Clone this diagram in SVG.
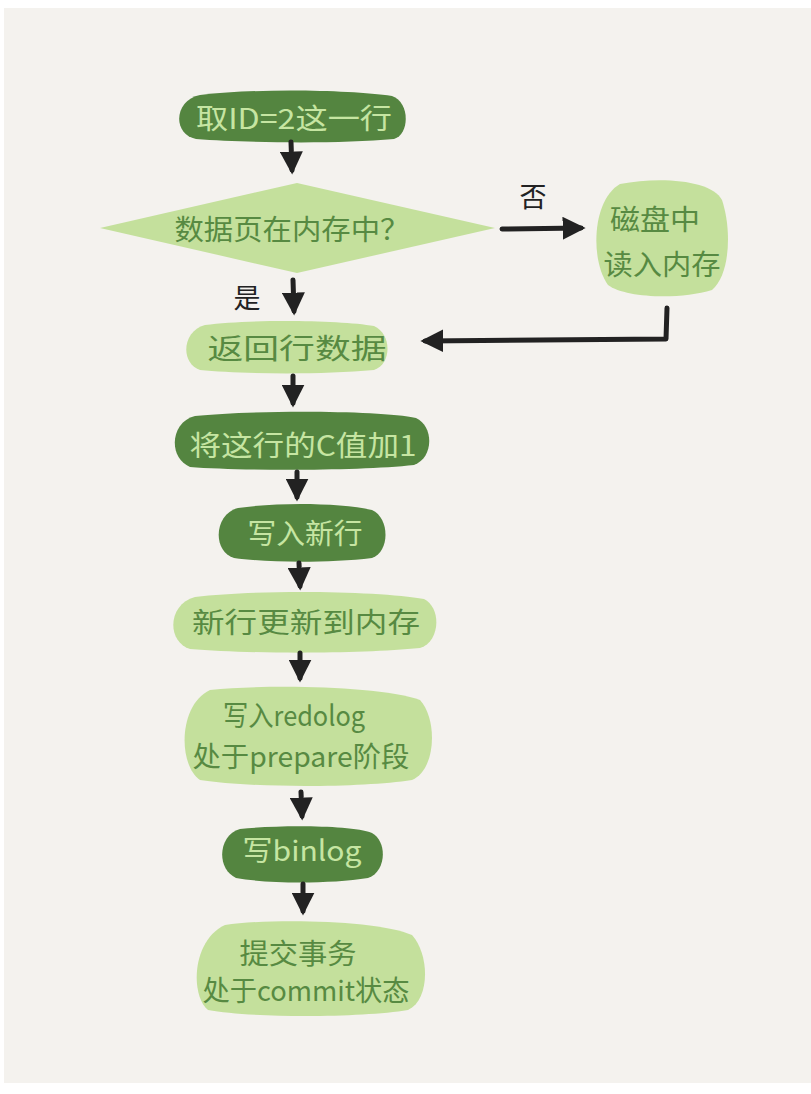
<svg xmlns="http://www.w3.org/2000/svg" width="811" height="1094" viewBox="0 0 811 1094">
<defs>
<marker id="ah" viewBox="0 0 10 10" refX="8" refY="5" markerWidth="4.6" markerHeight="4.6" orient="auto" markerUnits="strokeWidth">
<path d="M0,0 L10,5 L0,10 z" fill="#222"/>
</marker>
<style>
.dark{fill:#548540}
.light{fill:#c4e09c}
.tl{fill:#c6e5a2;font-family:"Noto Sans CJK SC","Noto Sans",sans-serif;font-size:28px;font-weight:400;text-anchor:middle}
.td{fill:#578a42;font-family:"Noto Sans CJK SC","Noto Sans",sans-serif;font-size:28px;font-weight:400;text-anchor:middle}
.lab{fill:#222;font-family:"Noto Sans CJK SC","Noto Sans",sans-serif;font-size:27px;text-anchor:middle}
.c{fill:none;stroke:#222;stroke-width:5;stroke-linecap:round;stroke-linejoin:round}
</style>
</defs>
<rect x="0" y="0" width="811" height="1094" fill="#ffffff"/>
<rect x="4" y="8" width="807" height="1075" fill="#f4f2ee"/>

<g id="n1">
<path class="dark" d="M200,95 C260,88 350,90 392,96 C410,102 410,134 394,139 C340,144 250,143 196,139 C172,134 174,100 200,95 z"/>
<text class="tl" x="294" y="129" textLength="196" lengthAdjust="spacingAndGlyphs">取ID=2这一行</text>
</g>
<g id="n2">
<path class="light" d="M297,183 L495,228 L297,273 L100,228 z"/>
<text class="td" x="292" y="240" textLength="235" lengthAdjust="spacingAndGlyphs">数据页在内存中？</text>
</g>
<g id="n3">
<path class="light" d="M620,184 C660,176 712,180 722,200 C732,230 730,275 712,290 C680,300 625,298 608,285 C590,260 592,200 620,184 z"/>
<text class="td" x="655" y="230" textLength="90" lengthAdjust="spacingAndGlyphs">磁盘中</text>
<text class="td" x="662" y="275" textLength="117" lengthAdjust="spacingAndGlyphs">读入内存</text>
</g>
<g id="n4">
<path class="light" d="M205,325 C250,319 340,320 374,326 C392,334 392,364 374,370 C320,375 240,374 200,370 C180,363 182,331 205,325 z"/>
<text class="td" x="297" y="359" textLength="179" lengthAdjust="spacingAndGlyphs">返回行数据</text>
</g>
<g id="n5">
<path class="dark" d="M195,416 C250,410 380,410 416,418 C434,426 434,458 414,465 C360,471 240,471 190,467 C168,458 170,422 195,416 z"/>
<text class="tl" x="303" y="456" textLength="227" lengthAdjust="spacingAndGlyphs">将这行的C值加1</text>
</g>
<g id="n6">
<path class="dark" d="M238,508 C280,502 340,503 372,510 C390,518 390,552 372,558 C330,563 270,563 234,558 C212,551 214,514 238,508 z"/>
<text class="tl" x="305" y="544" textLength="115" lengthAdjust="spacingAndGlyphs">写入新行</text>
</g>
<g id="n7">
<path class="light" d="M195,597 C260,589 380,591 424,599 C442,608 440,642 420,648 C360,654 250,654 190,649 C166,641 168,604 195,597 z"/>
<text class="td" x="306" y="633" textLength="228" lengthAdjust="spacingAndGlyphs">新行更新到内存</text>
</g>
<g id="n8">
<path class="light" d="M210,690 C270,684 380,686 420,700 C438,720 436,770 412,780 C360,788 250,788 200,780 C178,765 178,705 210,690 z"/>
<text class="td" x="294" y="726" textLength="142" lengthAdjust="spacingAndGlyphs">写入redolog</text>
<text class="td" x="301" y="767" textLength="217" lengthAdjust="spacingAndGlyphs">处于prepare阶段</text>
</g>
<g id="n9">
<path class="dark" d="M240,829 C280,825 350,825 372,833 C388,842 386,872 368,878 C330,884 270,884 236,878 C216,869 218,835 240,829 z"/>
<text class="tl" x="302" y="861" textLength="119" lengthAdjust="spacingAndGlyphs">写binlog</text>
</g>
<g id="n10">
<path class="light" d="M225,925 C270,918 380,920 412,935 C430,955 430,1000 408,1010 C360,1018 250,1018 208,1010 C190,995 192,940 225,925 z"/>
<text class="td" x="298" y="964" textLength="117" lengthAdjust="spacingAndGlyphs">提交事务</text>
<text class="td" x="306" y="1001" textLength="207" lengthAdjust="spacingAndGlyphs">处于commit状态</text>
</g>

<g id="connectors">
<path class="c" d="M291,142 L292,170" marker-end="url(#ah)"/>
<path class="c" d="M293,280 L294,311" marker-end="url(#ah)"/>
<path class="c" d="M502,229 L581,228" marker-end="url(#ah)"/>
<path class="c" d="M667,308 L666,339 L425,341" marker-end="url(#ah)"/>
<path class="c" d="M293,376 L293,403" marker-end="url(#ah)"/>
<path class="c" d="M297,472 L297,497" marker-end="url(#ah)"/>
<path class="c" d="M299,563 L300,586" marker-end="url(#ah)"/>
<path class="c" d="M300,653 L300,678" marker-end="url(#ah)"/>
<path class="c" d="M301,792 L302,816" marker-end="url(#ah)"/>
<path class="c" d="M303,884 L303,911" marker-end="url(#ah)"/>
<text class="lab" x="533" y="207">否</text>
<text class="lab" x="247" y="308">是</text>
</g>
</svg>
